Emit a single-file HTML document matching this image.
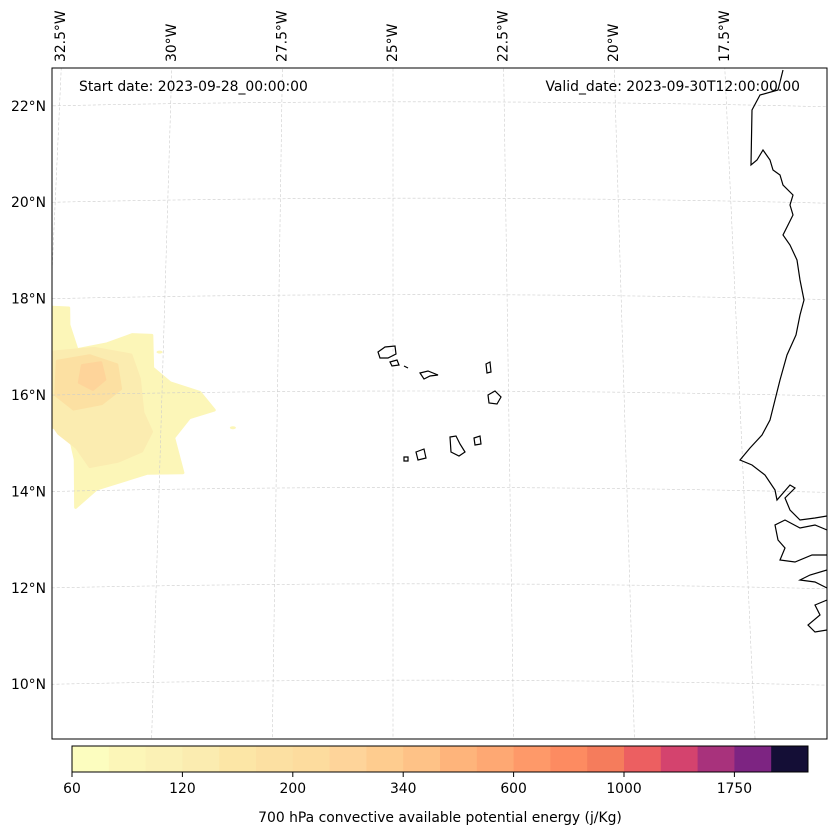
<!DOCTYPE html>
<html><head><meta charset="utf-8">
<style>
body{margin:0;background:#fff;font-family:"DejaVu Sans","Liberation Sans",sans-serif;}
svg text{font-family:"DejaVu Sans","Liberation Sans",sans-serif;font-size:13.9px;fill:#000;}
</style></head>
<body>
<svg id="c" width="837" height="836" viewBox="0 0 837 836">
<defs><clipPath id="clip"><rect x="52" y="68" width="775" height="671"/></clipPath></defs>
<rect x="52" y="68" width="775" height="671" fill="#fff"/>
<g id="field" clip-path="url(#clip)"></g>
<g id="grid" clip-path="url(#clip)"></g>
<g clip-path="url(#clip)" fill="none" stroke="#000" stroke-width="1.2">
<path d="M783,70 L778,90 L760,95 L752,110 L751,165 L757,160 L763,150 L770,160 L773,170 L780,175 L783,185 L793,195 L790,205 L793,215 L788,225 L783,235 L790,245 L797,260 L800,280 L804,300 L800,315 L796,335 L787,355 L780,380 L775,400 L770,420 L762,435 L750,448 L740,460 L752,465 L765,475 L775,490 L777,500 L790,485 L795,488 L785,498 L790,510 L800,520 L815,518 L827,516 M827,530 L815,525 L800,528 L785,520 L775,525 L778,540 L785,548 L780,560 L795,562 L812,555 L827,555 M827,570 L810,575 L800,580 L815,582 L827,588 M827,600 L815,605 L820,615 L808,625 L815,632 L827,630"/>
<path d="M378,352 L385,347 L395,346 L396,354 L388,358 L380,358 Z"/>
<path d="M390,362 L397,360 L399,365 L392,366 Z"/>
<path d="M404,366 L408,368"/>
<path d="M420,373 L428,371 L438,375 L430,376 L424,379 Z"/>
<path d="M486,364 L490,362 L491,372 L487,373 Z"/>
<path d="M488,395 L495,391 L501,397 L497,404 L489,403 Z"/>
<path d="M450,437 L456,436 L460,444 L465,452 L459,456 L451,452 Z"/>
<path d="M474,438 L480,436 L481,444 L475,445 Z"/>
<path d="M416,452 L424,449 L426,458 L418,460 Z"/>
<path d="M404,457 L408,457 L408,461 L404,461 Z"/>
</g>
<rect x="52" y="68" width="775" height="671" fill="none" stroke="#000" stroke-width="1"/>
<g id="labels"></g>
<text x="79" y="91">Start date: 2023-09-28_00:00:00</text>
<text x="800" y="91" text-anchor="end">Valid_date: 2023-09-30T12:00:00.00</text>
<g id="cbar"></g>
<text x="440" y="822" text-anchor="middle">700 hPa convective available potential energy (j/Kg)</text>
</svg>
<script>
const NS="http://www.w3.org/2000/svg";
function mk(t,a,p){const e=document.createElementNS(NS,t);for(const k in a)e.setAttribute(k,a[k]);p.appendChild(e);return e;}
// data
const levels=[60,70,80,100,120,140,160,200,240,280,340,400,500,600,700,850,1000,1200,1400,1750,2000];
const colors=['#fcfdbf','#fcf6b8','#fbf1b5','#fbecb0','#fce6a6','#fce0a2','#fddc9e','#fed49a','#fecc8f','#fec287','#feb47b','#fea873','#fe9969','#fd8b61','#f57c5c','#ec5f61','#d4436e','#a8327c','#7d2482','#541479','#140e36'];
const tickLabels=['60','120','200','340','600','1000','1750'];
const tickIdx=[0,3,6,9,12,15,18];
const lonTicks=[32.5,30,27.5,25,22.5,20,17.5];
const latTicks=[22,20,18,16,14,12,10];
const fieldLevels=[1,3,5,7];
const fieldPolys=[
 [[-33.2,17.87],[-32.1,17.8],[-32.08,17.45],[-31.88,16.93],[-31.23,17.04],[-30.69,17.22],[-30.26,17.2],[-30.22,16.52],[-29.83,16.21],[-29.18,16.0],[-28.86,15.63],[-29.39,15.48],[-29.72,15.07],[-29.5,14.34],[-30.26,14.34],[-31.34,14.03],[-31.77,13.66],[-31.82,14.65],[-31.99,15.27],[-33.2,15.48]],
 [[-33.2,16.8],[-32.3,16.9],[-31.5,16.95],[-30.7,16.8],[-30.5,16.3],[-30.4,15.6],[-30.2,15.2],[-30.4,14.8],[-30.9,14.6],[-31.5,14.5],[-31.8,14.9],[-32.2,15.2],[-32.5,15.6],[-33.2,15.9]],
 [[-32.3,16.7],[-31.6,16.8],[-31.0,16.6],[-30.9,16.1],[-31.3,15.8],[-31.9,15.7],[-32.3,16.0]],
 [[-31.75,16.6],[-31.35,16.65],[-31.25,16.3],[-31.5,16.1],[-31.8,16.25]]
];
const specks=[[-30.08,16.85],[-28.45,15.26]];
function px(lon,lat){
 const d=lon+25;
 const x=393+d*46.2-d*(lat-16)*0.29;
 const y=395-(lat-16)*48.2+0.00003*Math.pow(x-420,2)-4;
 return [x,y];
}
const F=document.getElementById('field');
fieldPolys.forEach((p,i)=>{
 const pts=p.map(q=>px(q[0],q[1]).join(',')).join(' ');
 const e=mk('polygon',{points:pts,fill:colors[fieldLevels[i]],stroke:colors[fieldLevels[i]],'stroke-width':3,'stroke-linejoin':'round'},F);
 
 
});
specks.forEach(s=>{
 const q=px(s[0],s[1]);
 const e=mk('ellipse',{cx:q[0],cy:q[1],rx:3,ry:1.5,fill:colors[1]},F);
 
 
});
const G=document.getElementById('grid');
const L=document.getElementById('labels');
lonTicks.forEach(l=>{
 const a=px(-l,23),b=px(-l,8.5);
 const e=mk('line',{x1:a[0],y1:a[1],x2:b[0],y2:b[1],stroke:'#ccc','stroke-width':0.6,'stroke-dasharray':'3,2'},G);
 
 
 const t=px(-l,22.75);
 const tx=mk('text',{x:0,y:0,transform:`translate(${t[0]+4},62) rotate(-90)`},L);
 tx.textContent=l+'°W';
 
 
});
latTicks.forEach(l=>{
 let d='';
 for(let lon=-34;lon<=-15;lon+=0.5){const q=px(lon,l);d+=(d?'L':'M')+q[0]+','+q[1];}
 const e=mk('path',{d:d,fill:'none',stroke:'#ccc','stroke-width':0.6,'stroke-dasharray':'3,2'},G);
 
 
 const tx=mk('text',{x:46,y:395-(l-16)*48.2+5,'text-anchor':'end'},L);
 tx.textContent=l+'°N';
 
 
});
const C=document.getElementById('cbar');
const cx0=72,cw=736,bins=20,bw=cw/bins;
for(let i=0;i<bins;i++){
 const e=mk('rect',{x:cx0+i*bw,y:746,width:bw+0.5,height:26,fill:colors[i+(i>=19?1:0)]},C);
 
 
}
mk('rect',{x:cx0,y:746,width:cw,height:26,fill:'none',stroke:'#000','stroke-width':1},C);
tickIdx.forEach((k,i)=>{
 const x=cx0+k*bw;
 mk('line',{x1:x,y1:772,x2:x,y2:777,stroke:'#000'},C);
 const t=mk('text',{x:x,y:793,'text-anchor':'middle'},C);
 t.textContent=tickLabels[i];
 
 
});
</script>
</body></html>
